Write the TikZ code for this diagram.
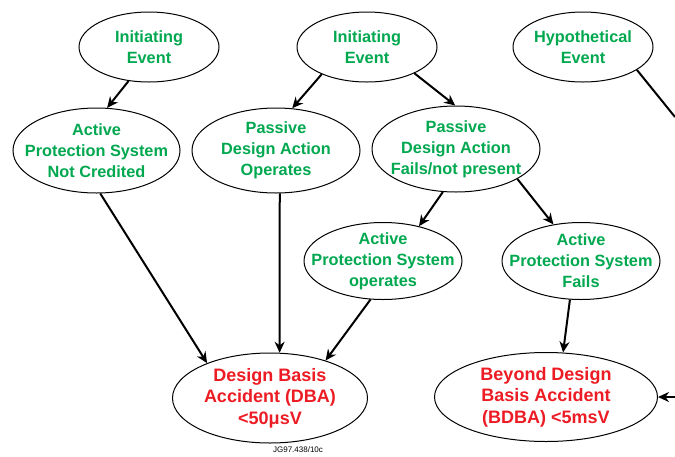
\documentclass[tikz,border=0pt]{standalone}
\usepackage{fontspec}
\setmainfont{Liberation Sans}
\usepackage{xcolor}
\usetikzlibrary{arrows.meta,shapes.geometric}

\definecolor{evgreen}{RGB}{0,168,80}
\definecolor{accred}{RGB}{237,28,36}

\begin{document}
\begin{tikzpicture}[
  x=1pt, y=-1pt,
  every node/.style={align=center},
  ev/.style={ellipse, draw=black, line width=1pt, inner sep=-40pt, fill=white,
             text=evgreen, font=\bfseries\fontsize{16.3}{21}\selectfont},
  acc/.style={ev, text=accred, font=\bfseries\fontsize{18}{21.5}\selectfont},
  arr/.style={-{Stealth[length=11pt,width=10pt]}, black, line width=2pt},
  lnk/.style={black, line width=2pt},
]
\useasboundingbox (0,0) rectangle (675,456);

%% --- Row 1: events ---
\node[ev, minimum width=140pt, minimum height=70pt] (ie1) at (149,47) {Initiating\\Event};
\node[ev, minimum width=140pt, minimum height=70pt] (ie2) at (367,47) {Initiating\\Event};
\node[ev, minimum width=140pt, minimum height=70pt] (he)  at (583,47) {Hypothetical\\Event};

%% --- Row 2: protection / passive design ---
\node[ev, minimum width=167pt, minimum height=85pt] (apsnc) at (96.5,150.5) {Active\\Protection System\\Not Credited};
\node[ev, minimum width=168pt, minimum height=85pt] (pdaop) at (276,150.5) {Passive\\Design Action\\Operates};
\node[ev, minimum width=168pt, minimum height=86pt] (pdaf)  at (456,149) {Passive\\Design Action\\Fails/not present};

%% --- Row 3: active protection ---
\node[ev, minimum width=158pt, minimum height=77pt] (apsop) at (383,261) {Active\\Protection System\\operates};
\node[ev, minimum width=158pt, minimum height=77pt] (apsf)  at (581,261) {Active\\Protection System\\Fails};

%% --- Row 4: outcomes ---
\node[acc, minimum width=195pt, minimum height=90pt] (dba)  at (270,398) {Design Basis\\Accident (DBA)\\<50μsV};
\node[acc, minimum width=223pt, minimum height=89pt] (bdba) at (546,397) {Beyond Design\\Basis Accident\\(BDBA) <5msV};

\node[font=\fontsize{8}{9}\selectfont] (tag) at (298,450) {JG97.438/10c};

%% --- free ends at the right edge ---
\coordinate (heout)  at (675,117);
\coordinate (bdbain) at (675,397);

%% --- Arrows ---
\draw[arr] (ie1.239)   -- (apsnc.76);
\draw[arr] (ie2.211)   -- (pdaop.69);
\draw[arr] (ie2.-29)   -- (pdaf.91);
\draw[arr] (pdaf.253)  -- (apsop.44);
\draw[arr] (pdaf.-26)  -- (apsf.127);
\draw[arr] (apsnc.275) -- (dba.151);
\draw[arr] (pdaop.275) -- (dba.78);
\draw[arr] (apsop.252) -- (dba.34);
\draw[arr] (apsf.254)  -- (bdba.69);
\draw[arr] (bdbain)    -- (bdba.east);
\draw[lnk] (he.-23)    -- (heout);

\end{tikzpicture}
\end{document}
